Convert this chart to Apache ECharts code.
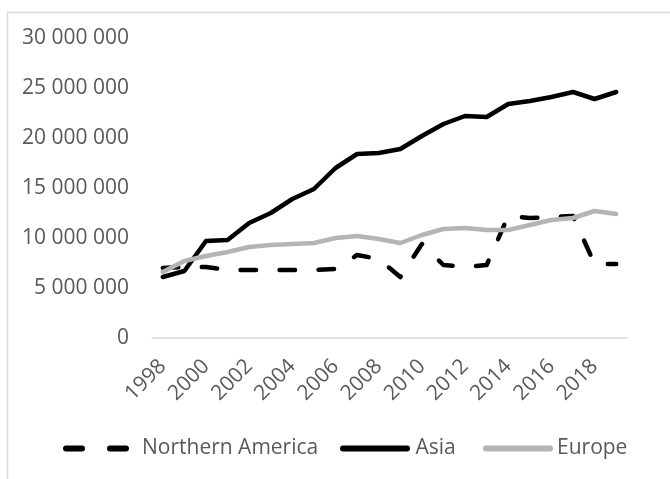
<!DOCTYPE html>
<html>
<head>
<meta charset="utf-8">
<script src="https://cdn.jsdelivr.net/npm/echarts@6/dist/echarts.min.js"></script>
<style>
html,body{margin:0;padding:0;background:#fff;}
#chart{width:670px;height:479px;}
</style>
</head>
<body>
<div id="chart"></div>
<script>
const years = ['1998','1999','2000','2001','2002','2003','2004','2005','2006','2007','2008','2009','2010','2011','2012','2013','2014','2015','2016','2017','2018','2019'];
const northernAmerica = [7000000, 7100000, 7100000, 6800000, 6800000, 6800000, 6800000, 6800000, 6900000, 8300000, 7900000, 6100000, 9400000, 7300000, 7100000, 7300000, 12200000, 12000000, 12100000, 12200000, 7400000, 7400000];
const asia = [6100000, 6700000, 9700000, 9800000, 11500000, 12500000, 13900000, 14900000, 17000000, 18400000, 18500000, 18900000, 20200000, 21400000, 22200000, 22100000, 23400000, 23700000, 24100000, 24600000, 23900000, 24600000];
const europe = [6600000, 7700000, 8200000, 8600000, 9100000, 9300000, 9400000, 9500000, 10000000, 10200000, 9900000, 9500000, 10300000, 10900000, 11000000, 10800000, 10800000, 11300000, 11800000, 12000000, 12700000, 12400000];
const seriesNames = ['Northern America', 'Asia', 'Europe'];

const FONT = 'Open Sans';
const TXT = '#595959';
const FS = 21;
const fmt = v => String(v).replace(/\B(?=(\d{3})+(?!\d))/g, ' ');

const dashIcon = 'path://M3,0h16a3,3 0 0 1 0,6h-16a3,3 0 0 1 0,-6zM47,0h16a3,3 0 0 1 0,6h-16a3,3 0 0 1 0,-6z';
const barIcon = 'path://M3,0h64a3,3 0 0 1 0,6h-64a3,3 0 0 1 0,-6z';

const chart = echarts.init(document.getElementById('chart'), null, {renderer: 'canvas'});
function legendAt(left, width, name, icon, padLeft) {
  return {
    left: left, top: 438, padding: 0,
    itemWidth: width, itemHeight: 6, itemGap: 0,
    icon: icon,
    itemStyle: {borderWidth: 0},
    textStyle: {color: TXT, fontFamily: FONT, fontSize: FS, padding: [0, 0, 0, padLeft]},
    data: [name]
  };
}
chart.setOption({
  animation: false,
  textStyle: {fontFamily: FONT},
  graphic: [{
    type: 'rect', left: 5, top: 10, silent: true,
    shape: {width: 700, height: 500},
    style: {fill: 'none', stroke: '#d9d9d9', lineWidth: 1.5}
  }],
  legend: [
    legendAt(63, 66, seriesNames[0], dashIcon, 8),
    legendAt(340, 73, seriesNames[1], barIcon, -1),
    legendAt(483, 70, seriesNames[2], barIcon, -1)
  ],
  grid: {left: 152, right: 43, top: 38, bottom: 141, containLabel: false},
  xAxis: {
    type: 'category',
    data: years,
    boundaryGap: true,
    axisLine: {show: true, lineStyle: {color: '#d9d9d9', width: 1.5}},
    axisTick: {show: false},
    axisLabel: {interval: 1, rotate: 45, color: TXT, fontFamily: FONT, fontSize: FS, margin: 25}
  },
  yAxis: {
    type: 'value',
    min: 0, max: 30000000, interval: 5000000,
    axisLine: {show: false},
    axisTick: {show: false},
    splitLine: {show: false},
    axisLabel: {color: TXT, fontFamily: FONT, fontSize: FS, margin: 23, formatter: fmt}
  },
  series: [
    {
      name: seriesNames[0], type: 'line', data: northernAmerica, symbol: 'none',
      itemStyle: {color: '#000000'},
      lineStyle: {color: '#000000', width: 4.5, type: [15.5, 23.5], cap: 'round', join: 'round'}
    },
    {
      name: seriesNames[1], type: 'line', data: asia, symbol: 'none',
      itemStyle: {color: '#000000'},
      lineStyle: {color: '#000000', width: 4.5, cap: 'round', join: 'round'}
    },
    {
      name: seriesNames[2], type: 'line', data: europe, symbol: 'none',
      itemStyle: {color: '#b4b4b4'},
      lineStyle: {color: '#b4b4b4', width: 4.5, cap: 'round', join: 'round'}
    }
  ]
});
</script>
</body>
</html>
